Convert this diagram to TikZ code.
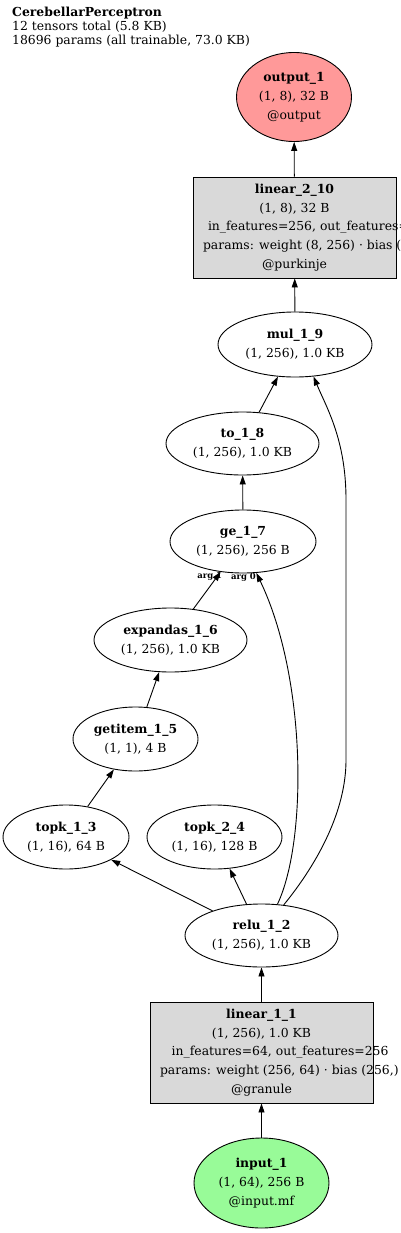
\documentclass[tikz,border=0pt]{standalone}
\usepackage{fontspec}
\setmainfont{DejaVu Serif}
\usetikzlibrary{arrows.meta,shapes.geometric}
\usepackage{xcolor}
\definecolor{outred}{HTML}{FF9999}
\definecolor{ingreen}{HTML}{98FB98}
\definecolor{opgray}{HTML}{D9D9D9}
\newcommand{\fromleft}[2]{\makebox[0pt][l]{\hspace{-#1}#2}}

\begin{document}
\begin{tikzpicture}[
  x=1pt, y=-1pt,
  tensor/.style={draw, ellipse, line width=0.9pt, align=center, inner sep=0pt, font=\fontsize{12.4}{19}\selectfont},
  layer/.style={draw, rectangle, fill=opgray, line width=0.9pt, align=center, inner sep=0pt, minimum height=101pt, font=\fontsize{12.4}{18.6}\selectfont},
  flow/.style={-{Triangle[length=9pt,width=6pt]}, line width=0.9pt},
  arglabel/.style={font=\fontsize{8.5}{9}\selectfont\bfseries, inner sep=0pt}
]
\useasboundingbox (0,0) rectangle (400,1233);
\node[anchor=north west, align=left, inner sep=0pt, font=\fontsize{12.4}{14}\selectfont] (summary) at (12,7)
  {\textbf{CerebellarPerceptron}\\12 tensors total (5.8 KB)\\18696 params (all trainable, 73.0 KB)};

\node[tensor, fill=outred, minimum width=115pt, minimum height=89pt] (output) at (294,97) {\textbf{output\_1}\\(1, 8), 32 B\\@output};
\node[layer, minimum width=203pt] (purkinje) at (294.5,227.5)
  {\textbf{linear\_2\_10}\\(1, 8), 32 B\\\fromleft{86.5pt}{in\_features=256, out\_features=8}\\\fromleft{91.5pt}{params: weight (8, 256) · bias (8,)}\\@purkinje};
\node[tensor, minimum width=154pt, minimum height=65pt] (mul) at (295,344.5) {\textbf{mul\_1\_9}\\(1, 256), 1.0 KB};
\node[tensor, minimum width=153pt, minimum height=63pt] (tocast) at (242.5,443.5) {\textbf{to\_1\_8}\\(1, 256), 1.0 KB};
\node[tensor, minimum width=146pt, minimum height=63pt] (ge) at (243,541.5) {\textbf{ge\_1\_7}\\(1, 256), 256 B};
\node[tensor, minimum width=153pt, minimum height=64pt] (expandas) at (170.5,640) {\textbf{expandas\_1\_6}\\(1, 256), 1.0 KB};
\node[tensor, minimum width=125pt, minimum height=64pt] (getitem) at (135.5,739) {\textbf{getitem\_1\_5}\\(1, 1), 4 B};
\node[tensor, minimum width=126pt, minimum height=64pt] (topk1) at (66,837) {\textbf{topk\_1\_3}\\(1, 16), 64 B};
\node[tensor, minimum width=135pt, minimum height=64pt] (topk2) at (214.5,837) {\textbf{topk\_2\_4}\\(1, 16), 128 B};
\node[tensor, minimum width=153pt, minimum height=63pt] (relu) at (261.5,935.5) {\textbf{relu\_1\_2}\\(1, 256), 1.0 KB};
\node[layer, minimum width=223pt] (granule) at (261.5,1052.5)
  {\textbf{linear\_1\_1}\\(1, 256), 1.0 KB\\\fromleft{89.8pt}{in\_features=64, out\_features=256}\\\fromleft{101.5pt}{params: weight (256, 64) · bias (256,)}\\@granule};
\node[tensor, fill=ingreen, minimum width=135pt, minimum height=90pt] (input) at (261.5,1183) {\textbf{input\_1}\\(1, 64), 256 B\\@input.mf};

\draw[flow] (input) -- (granule);
\draw[flow] (granule) -- (relu);
\draw[flow] (relu) -- (topk1);
\draw[flow] (relu) -- (topk2);
\draw[flow] (topk1) -- (getitem);
\draw[flow] (getitem) -- (expandas);
\draw[flow] (expandas) -- (ge) node[arglabel, pos=1, anchor=north east, xshift=2pt] {arg 1};
\draw[flow] (relu.63) .. controls +(30,-63) and +(50.5,105) .. (ge.-67) node[arglabel, anchor=north east] {arg 0};
\draw[flow] (relu.54) .. controls +(35,-43) and +(0,50) .. (346,760) -- (346,500) .. controls +(0,-60) and +(13.5,32) .. (mul.-60);
\draw[flow] (ge) -- (tocast);
\draw[flow] (tocast) -- (mul);
\draw[flow] (mul) -- (purkinje);
\draw[flow] (purkinje) -- (output);
\end{tikzpicture}
\end{document}
